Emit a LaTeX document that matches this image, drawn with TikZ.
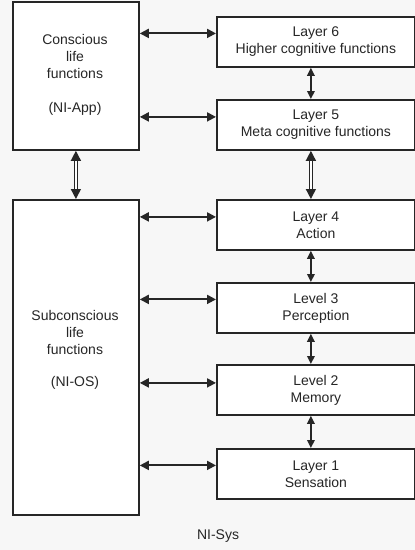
\documentclass[tikz,border=0pt]{standalone}
\usepackage{fontspec}
\setmainfont{Liberation Sans}
\usetikzlibrary{arrows.meta,calc}
\definecolor{ink}{HTML}{262626}
\begin{document}
\begin{tikzpicture}[x=1pt,y=-1pt,
  every node/.style={font=\fontsize{14}{17}\selectfont, text=ink, inner sep=0pt},
  box/.style={draw=ink, line width=1.8pt, fill=white, anchor=north west},
  layerbox/.style={box, minimum width=198pt, minimum height=50pt, align=center},
  arr/.style={draw=ink, line width=1.9pt, {Triangle[length=9pt,width=9pt]}-{Triangle[length=9pt,width=9pt]}},
  varr/.style={draw=ink, line width=1.7pt, {Triangle[length=8pt,width=7.5pt]}-{Triangle[length=8pt,width=7.5pt]}},
  dblarr/.style={draw=ink, line width=1.4pt, double=white, double distance=1.8pt,
    {Triangle[length=10pt,width=10pt]}-{Triangle[length=10pt,width=10pt]}}]
  \fill[white!97!black] (0,0) rectangle (415,550);
  \useasboundingbox (0,0) rectangle (415,550);

  % left column: application and operating-system layers
  \node[box, minimum width=126pt, minimum height=148pt] (app) at (12,1) {};
  \node[align=center] (apptext) at (75,75) {Conscious\\life\\functions\\[17pt](NI-App)};
  \node[box, minimum width=126pt, minimum height=315pt] (os) at (12,199) {};
  \node[align=center] (ostext) at (75,350) {Subconscious\\life\\functions\\[15pt](NI-OS)};

  % right column: the six layers
  \node[layerbox] (l6) at (216,16)  {Layer 6\\Higher cognitive functions};
  \node[layerbox] (l5) at (216,99)  {Layer 5\\Meta cognitive functions};
  \node[layerbox] (l4) at (216,199) {Layer 4\\Action};
  \node[layerbox] (l3) at (216,282) {Level 3\\Perception};
  \node[layerbox] (l2) at (216,364) {Level 2\\Memory};
  \node[layerbox] (l1) at (216,448) {Layer 1\\Sensation};

  \node (sys) at (218,536) {NI-Sys};

  % horizontal links
  \draw[arr] ([yshift=8.5pt]l6.west -| app.east) -- ([yshift=8.5pt]l6.west);
  \draw[arr] ([yshift=8pt]l5.west -| app.east) -- ([yshift=8pt]l5.west);
  \draw[arr] ([yshift=8pt]l4.west -| os.east) -- ([yshift=8pt]l4.west);
  \draw[arr] ([yshift=8.5pt]l3.west -| os.east) -- ([yshift=8.5pt]l3.west);
  \draw[arr] ([yshift=7pt]l2.west -| os.east) -- ([yshift=7pt]l2.west);
  \draw[arr] ([yshift=8.5pt]l1.west -| os.east) -- ([yshift=8.5pt]l1.west);

  % vertical links
  \draw[varr] ([xshift=-5pt]l6.south) -- ([xshift=-5pt]l5.north);
  \draw[dblarr] ([xshift=-5pt]l5.south) -- ([xshift=-5pt]l4.north);
  \draw[varr] ([xshift=-5pt]l4.south) -- ([xshift=-5pt]l3.north);
  \draw[varr] ([xshift=-5pt]l3.south) -- ([xshift=-5pt]l2.north);
  \draw[varr] ([xshift=-5pt]l2.south) -- ([xshift=-5pt]l1.north);
  \draw[dblarr] (app.south) -- (os.north);
\end{tikzpicture}
\end{document}
